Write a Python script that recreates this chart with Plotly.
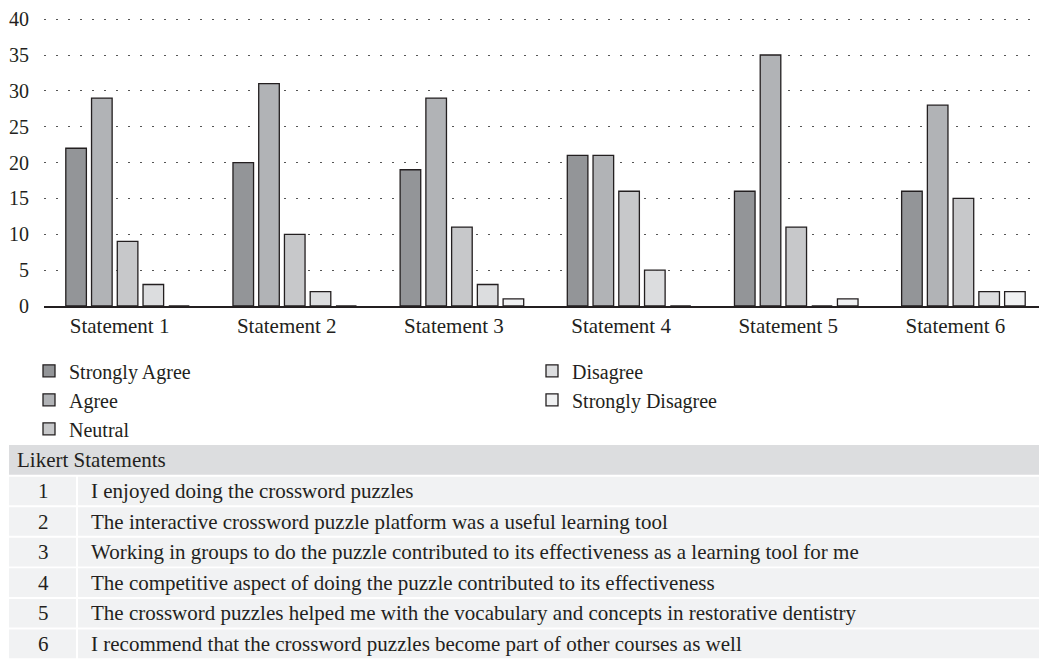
import plotly.graph_objects as go

# ---- data ----
categories = ["Statement 1", "Statement 2", "Statement 3", "Statement 4", "Statement 5", "Statement 6"]
strongly_agree = [22, 20, 19, 21, 16, 16]
agree = [29, 31, 29, 21, 35, 28]
neutral = [9, 10, 11, 16, 11, 15]
disagree = [3, 2, 3, 5, 0, 2]
strongly_disagree = [0, 0, 1, 0, 1, 2]
series_names = ["Strongly Agree", "Agree", "Neutral", "Disagree", "Strongly Disagree"]
series_values = [strongly_agree, agree, neutral, disagree, strongly_disagree]
y_ticks = [0, 5, 10, 15, 20, 25, 30, 35, 40]
statement_numbers = ["1", "2", "3", "4", "5", "6"]
statements = [
    "I enjoyed doing the crossword puzzles",
    "The interactive crossword puzzle platform was a useful learning tool",
    "Working in groups to do the puzzle contributed to its effectiveness as a learning tool for me",
    "The competitive aspect of doing the puzzle contributed to its effectiveness",
    "The crossword puzzles helped me with the vocabulary and concepts in restorative dentistry",
    "I recommend that the crossword puzzles become part of other courses as well",
]
table_title = "Likert Statements"

# ---- styling ----
colors = ["#939598", "#b1b3b6", "#c7c8ca", "#dcdddf", "#f0f1f2"]
FONT = "Liberation Serif"
FS = 21        # table text and category labels
FS_LEG = 20    # legend text
FS_Y = 20      # y tick labels
TXT = "#231f20"

# page body has an 8px default margin; design in screen pixels and convert
OFF = 8
SW, SH = 1047, 665                     # screen size
W, H = SW - OFF, SH - OFF              # figure size
PL, PR, PT, PB = 44, 1047, 13, 306     # plot area in screen pixels
L, R, T, B = PL - OFF, SW - PR, PT - OFF, SH - PB
PW, PH = W - L - R, H - T - B


def px(x):
    return (x - OFF - L) / PW


def py(y):
    return (H - B - (y - OFF)) / PH


fig = go.Figure()
for i, (name, vals) in enumerate(zip(series_names, series_values)):
    fig.add_trace(go.Bar(
        x=categories, y=vals, name=name,
        marker=dict(color=colors[i], line=dict(color=TXT, width=1.3)),
        legend="legend" if i < 3 else "legend2",
    ))

shapes = []
annotations = []
# table header
hdr_top, hdr_bot = 447, 477
shapes.append(dict(type="rect", xref="paper", yref="paper", x0=px(9), x1=px(SW), y0=py(hdr_bot), y1=py(hdr_top),
                   fillcolor="#dcdddf", line=dict(width=0), layer="below"))
annotations.append(dict(xref="paper", yref="paper", x=px(15), y=py((hdr_top + hdr_bot) / 2), text=table_title,
                        showarrow=False, xanchor="left", yanchor="middle", font=dict(family=FONT, size=FS, color=TXT)))
row_h = (SH - 479) / len(statements)
for i, (num, s) in enumerate(zip(statement_numbers, statements)):
    top = 479 + i * row_h
    bot = top + row_h - 2
    shapes.append(dict(type="rect", xref="paper", yref="paper", x0=px(9), x1=px(76), y0=py(bot), y1=py(top),
                       fillcolor="#f1f2f3", line=dict(width=0), layer="below"))
    shapes.append(dict(type="rect", xref="paper", yref="paper", x0=px(78), x1=px(SW), y0=py(bot), y1=py(top),
                       fillcolor="#f1f2f3", line=dict(width=0), layer="below"))
    cy = py((top + bot) / 2)
    annotations.append(dict(xref="paper", yref="paper", x=px(43), y=cy, text=num, showarrow=False,
                            xanchor="center", yanchor="middle", font=dict(family=FONT, size=FS, color=TXT)))
    annotations.append(dict(xref="paper", yref="paper", x=px(89), y=cy, text=s, showarrow=False,
                            xanchor="left", yanchor="middle", font=dict(family=FONT, size=FS, color=TXT)))

fig.update_layout(
    width=W, height=H,
    margin=dict(l=L, r=R, t=T, b=B, pad=0),
    plot_bgcolor="white", paper_bgcolor="white",
    barmode="group", bargap=0.23, bargroupgap=0.2,
    font=dict(family=FONT, size=FS, color=TXT),
    shapes=shapes, annotations=annotations,
    legend=dict(x=px(29), y=py(352), xanchor="left", yanchor="top", bgcolor="rgba(0,0,0,0)",
                font=dict(family=FONT, size=FS_LEG, color=TXT), tracegroupgap=0),
    legend2=dict(x=px(532), y=py(352), xanchor="left", yanchor="top", bgcolor="rgba(0,0,0,0)",
                 font=dict(family=FONT, size=FS_LEG, color=TXT), tracegroupgap=0),
    xaxis=dict(showline=True, linecolor=TXT, linewidth=1.5, ticks="", showgrid=False,
               ticklabelshift=-8, tickfont=dict(family=FONT, size=FS, color=TXT)),
    yaxis=dict(range=[0, 40.3], tickvals=y_ticks, showgrid=True, gridcolor="#555555", gridwidth=1.2,
               griddash="1.5px,10.5px", zeroline=False, showline=False, ticks="",
               ticklabeloverflow="allow", ticklabelstandoff=14,
               tickfont=dict(family=FONT, size=FS_Y, color=TXT)),
)

fig.write_html("out.html")
